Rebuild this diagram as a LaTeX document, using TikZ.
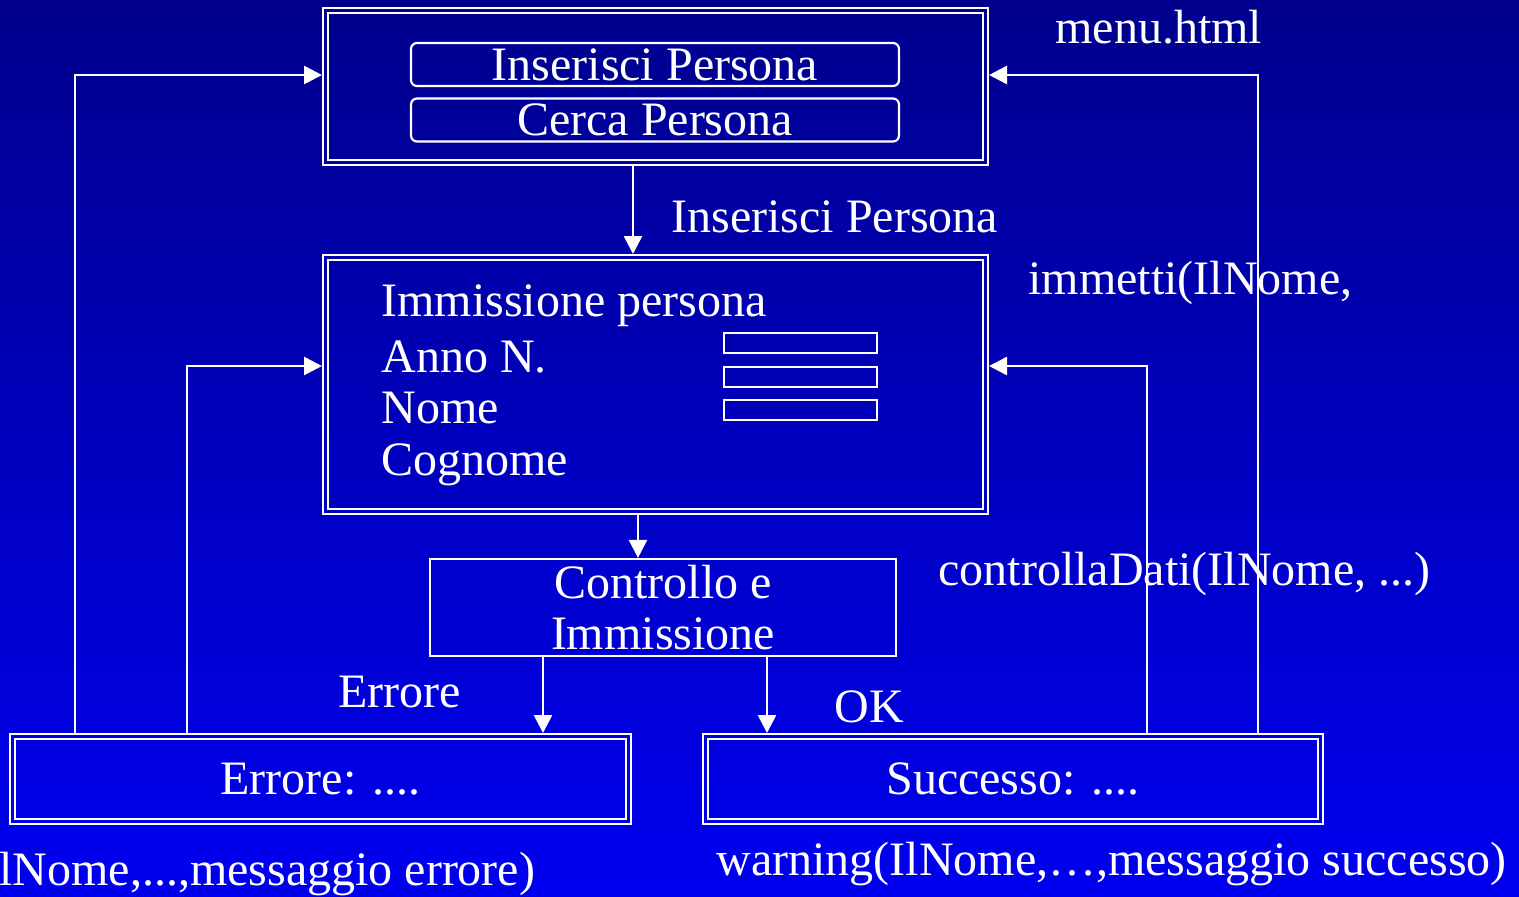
\documentclass[tikz,border=0pt]{standalone}
\usepackage{fontspec}
\setmainfont{Liberation Serif}
\usetikzlibrary{arrows.meta,calc}
\begin{document}
\begin{tikzpicture}[x=0.5pt,y=-0.5pt,
  every node/.style={text=white,font=\fontsize{24}{25.5}\selectfont},
  wire/.style={draw=white,line width=1.3pt},
  arr/.style={wire,-{Triangle[length=9pt,width=9pt]}},
  framebox/.style={draw=white,line width=1pt,inner sep=0pt,rectangle},
  button/.style={draw=white,line width=1.1pt,rounded corners=3pt,inner sep=0pt,minimum width=244pt,minimum height=21.5pt},
  field/.style={draw=white,line width=1.1pt,inner sep=0pt,minimum width=76.5pt,minimum height=10pt},
  lbl/.style={anchor=base west,inner sep=0pt}]
% background
\shade[top color={rgb,255:red,0;green,0;blue,140},bottom color={rgb,255:red,0;green,0;blue,240}]
  (0,0) rectangle (1519,896);
\useasboundingbox (0,0) rectangle (1519,896);

% boxes
\node[framebox,minimum width=332.5pt,minimum height=78.5pt] (menu) at (655.5,86.5) {};
\node[framebox,minimum width=332.5pt,minimum height=129.5pt] (imm) at (655.5,384.5) {};
\node[framebox,line width=1.1pt,minimum width=233pt,minimum height=48.5pt,align=center] (ctrl) at (663,607.5) {Controllo e\\Immissione};
\node[framebox,minimum width=310.5pt,minimum height=45pt] (err) at (320.5,779) {Errore: ....};
\node[framebox,minimum width=310pt,minimum height=45pt] (succ) at (1013,779) {Successo: ....};
\foreach \b in {menu,imm,err,succ}{
  \draw[white,line width=1pt] ($(\b.north west)+(6,6)$) rectangle ($(\b.south east)+(-6,-6)$);
}

% menu buttons
\node[button] (bIns) at (655,64.5) {Inserisci Persona};
\node[button] (bCer) at (655,120) {Cerca Persona};

% form content
\node[lbl] (tImm) at (381,316) {Immissione persona};
\node[lbl] (tAnno) at (381,372) {Anno N.};
\node[lbl] (tNome) at (381,423) {Nome};
\node[lbl] (tCogn) at (381,475) {Cognome};
\node[field] (f1) at (800.5,343) {};
\node[field] (f2) at (800.5,377) {};
\node[field] (f3) at (800.5,410) {};

% column coordinates
\coordinate (cA) at (633,0);
\coordinate (cB) at (638,0);
\coordinate (cE) at (543,0);
\coordinate (cO) at (767,0);
\coordinate (cL1) at (75,0);
\coordinate (cL2) at (187,0);
\coordinate (cR1) at (1258,0);
\coordinate (cR2) at (1147,0);
\coordinate (rTop) at (0,75);
\coordinate (rMid) at (0,366);

% connectors
\draw[arr] (menu.south -| cA) -- (imm.north -| cA);
\draw[arr] (imm.south -| cB) -- (ctrl.north -| cB);
\draw[arr] (ctrl.south -| cE) -- (err.north -| cE);
\draw[arr] (ctrl.south -| cO) -- (succ.north -| cO);
\draw[arr] (err.north -| cL1) |- (menu.west |- rTop);
\draw[arr] (err.north -| cL2) |- (imm.west |- rMid);
\draw[arr] (succ.north -| cR1) |- (menu.east |- rTop);
\draw[arr] (succ.north -| cR2) |- (imm.east |- rMid);

% labels
\node[lbl] (lMenu) at (1055,43) {menu.html};
\node[lbl] (lIns) at (671,232) {Inserisci Persona};
\node[lbl] (lImmetti) at (1028,294) {immetti(IlNome,};
\node[lbl] (lCtrl) at (938,585) {controllaDati(IlNome, ...)};
\node[lbl] (lErr) at (338,707) {Errore};
\node[lbl] (lOK) at (834,722) {OK};
\node[lbl] (lWarn) at (716,875) {warning(IlNome,…,messaggio successo)};
\node[lbl] (lErrMsg) at (-1,885) {lNome,...,messaggio errore)};
\end{tikzpicture}
\end{document}
